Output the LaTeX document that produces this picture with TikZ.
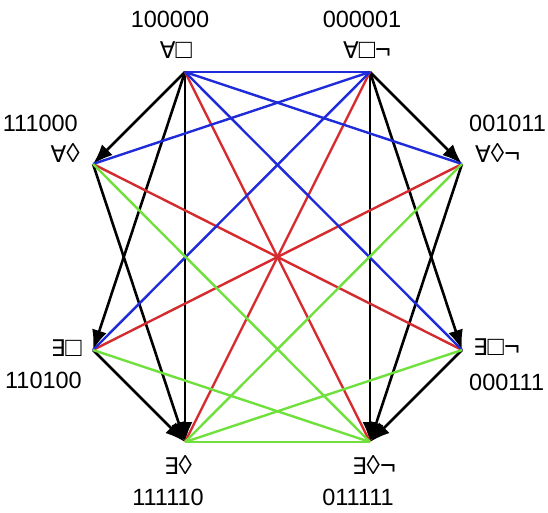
\documentclass[tikz,border=0pt]{standalone}
\usepackage{fontspec}
\setmainfont{Liberation Sans}
\newfontfamily\qfont{DejaVu Sans}
\usetikzlibrary{arrows.meta}
\definecolor{oppred}{HTML}{D62B2E}
\definecolor{oppblue}{HTML}{1F2BD8}
\definecolor{oppgreen}{HTML}{6FE03C}
\newcommand{\qall}{{\qfont\fontsize{23}{26}\selectfont ∀}}
\newcommand{\qex}{{\qfont\fontsize{23}{26}\selectfont ∃}}
\tikzset{
  lbl/.style={font=\fontsize{23.5}{26}\selectfont, inner sep=0pt},
  sym/.style={font=\fontsize{27}{30}\selectfont, inner sep=0pt},
  imp/.style={-{Latex[length=20pt,width=15pt]}, line width=2.6pt, color=black},
  ctr/.style={line width=2.4pt, color=oppred},
  cup/.style={line width=2.4pt, color=oppblue},
  cdn/.style={line width=2.4pt, color=oppgreen},
}
\begin{document}
\begin{tikzpicture}[x=1pt, y=-1pt]
    \useasboundingbox (0,0) rectangle (548,513);
    \coordinate (AB) at (185,72);
    \coordinate (ABn) at (370,72);
    \coordinate (AD) at (93,164);
    \coordinate (ADn) at (462,164);
    \coordinate (EB) at (93,350);
    \coordinate (EBn) at (462,350);
    \coordinate (ED) at (185,442);
    \coordinate (EDn) at (370,442);
    \node[lbl] (tAB) at (170,19) {100000};
    \node[sym] (sAB) at (176,50) {\qall□};
    \node[lbl] (tABn) at (362,19) {000001};
    \node[sym] (sABn) at (367,50) {\qall□¬};
    \node[lbl, anchor=east] (tAD) at (78,123) {111000};
    \node[sym, anchor=east] (sAD) at (80,153) {\qall◊};
    \node[lbl, anchor=west] (tADn) at (469,123) {001011};
    \node[sym, anchor=west] (sADn) at (475,153) {\qall◊¬};
    \node[sym, anchor=east] (sEB) at (82,348) {\qex□};
    \node[lbl, anchor=east] (tEB) at (82,380) {110100};
    \node[sym, anchor=west] (sEBn) at (473,347) {\qex□¬};
    \node[lbl, anchor=west] (tEBn) at (469,382) {000111};
    \node[sym] (sED) at (178,465) {\qex◊};
    \node[lbl] (tED) at (168,497) {111110};
    \node[sym] (sEDn) at (374,465) {\qex◊¬};
    \node[lbl] (tEDn) at (358,497) {011111};
    % implications
    \foreach \a/\b in {AB/AD,AB/EB,AB/ED,AD/ED,EB/ED,ABn/ADn,ABn/EBn,ABn/EDn,ADn/EDn,EBn/EDn} \draw[imp] (\a) -- (\b);
    % contradictories, contraries, subcontraries
    \foreach \a/\b in {AB/EDn,ABn/ED,AD/EBn,ADn/EB} \draw[ctr] (\a) -- (\b);
    \foreach \a/\b in {AB/ABn,AB/ADn,AB/EBn,ABn/AD,ABn/EB} \draw[cup] (\a) -- (\b);
    \foreach \a/\b in {ED/EDn,ED/ADn,ED/EBn,EDn/AD,EDn/EB} \draw[cdn] (\a) -- (\b);
\end{tikzpicture}
\end{document}
